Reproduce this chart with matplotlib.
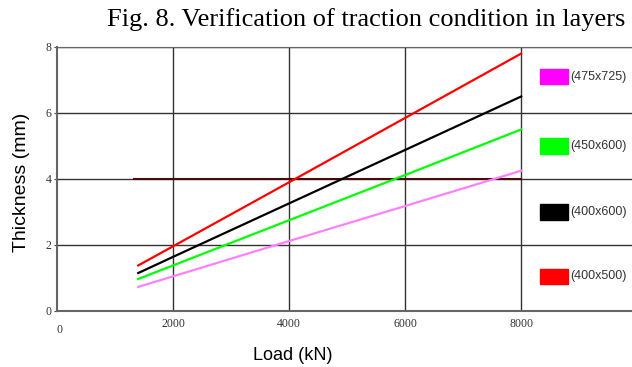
import matplotlib
matplotlib.use("Agg")
import matplotlib.pyplot as plt
from matplotlib.patches import Rectangle

# Data
load = [1400, 2000, 4000, 6000, 8000]
t_400x500 = [1.38, 1.96, 3.90, 5.85, 7.80]
t_400x600 = [1.15, 1.64, 3.26, 4.88, 6.50]
t_450x600 = [0.97, 1.38, 2.75, 4.12, 5.50]
t_475x725 = [0.73, 1.05, 2.12, 3.18, 4.25]
limit_x = [1320, 8000]
limit_y = [4.0, 4.0]

labels = ['(475x725)', '(450x600)', '(400x600)', '(400x500)']
patch_colors = ['#ff00ff', '#00ff00', '#000000', '#ff0000']
legend_y = [7.1, 5.0, 3.0, 1.05]

x_ticks = [2000, 4000, 6000, 8000]
y_ticks = [0, 2, 4, 6, 8]

fig = plt.figure(figsize=(6.32, 3.67), dpi=100)
ax = fig.add_axes([0.0902, 0.1526, 0.9098, 0.7194])
ax.set_xlim(0, 9910)
ax.set_ylim(0, 8)

# grid
for xv in x_ticks:
    ax.plot([xv, xv], [0, 8], color='#333333', lw=1.0, zorder=1)
for yv in y_ticks[1:]:
    ax.axhline(yv, color='#333333', lw=1.0, zorder=1)

ax.plot(limit_x, limit_y, color='#4a0a0a', lw=1.5, zorder=2)
ax.plot(load, t_475x725, color='#ff80ff', lw=1.6, zorder=3)
ax.plot(load, t_450x600, color='#00ff00', lw=1.6, zorder=3)
ax.plot(load, t_400x600, color='#000000', lw=1.6, zorder=3)
ax.plot(load, t_400x500, color='#ff0000', lw=1.6, zorder=3)

# legend boxes on the right
for lab, col, yv in zip(labels, patch_colors, legend_y):
    ax.add_patch(Rectangle((8330, yv - 0.23), 480, 0.46, color=col, zorder=4))
    ax.text(8840, yv, lab, fontsize=9, family='Liberation Sans',
            va='center', ha='left', color='#333333')

for side in ['left', 'bottom']:
    ax.spines[side].set_color('#666666')
    ax.spines[side].set_linewidth(1.5)
ax.spines['top'].set_color('#666666')
ax.spines['right'].set_visible(False)

ax.set_xticks(x_ticks)
ax.set_yticks(y_ticks)
ax.tick_params(axis='x', length=0, labelsize=8.5, pad=5, labelcolor='#333333')
ax.tick_params(axis='y', length=2, labelsize=8.5, pad=2, color='#444444',
               labelcolor='#333333')
for lbl in ax.get_xticklabels() + ax.get_yticklabels():
    lbl.set_family('Liberation Serif')
ax.text(0.005, -0.05, '0', transform=ax.transAxes, fontsize=8.5, color='#333333',
        family='Liberation Serif', ha='center', va='top')

fig.text(22 / 632, 1 - 182 / 367, 'Thickness (mm)', rotation=90, fontsize=14,
         family='Liberation Sans', ha='center', va='center')
fig.text(293 / 632, 1 - 355 / 367, 'Load (kN)', fontsize=13,
         family='Liberation Sans', ha='center', va='center')
fig.text(107 / 632, 1 - 20 / 367, 'Fig. 8. Verification of traction condition in layers',
         fontsize=19, family='Liberation Serif', ha='left', va='center')

fig.savefig('out.png', dpi=100)
